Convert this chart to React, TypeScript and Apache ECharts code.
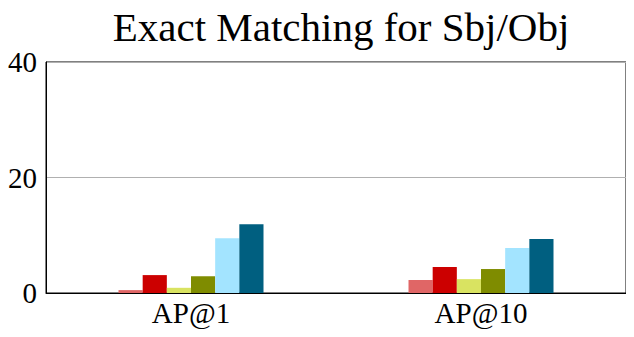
import React, { useEffect, useRef } from "react";
import * as echarts from "echarts";

const categories = ["AP@1", "AP@10"];
const seriesNames = ["S1", "S2", "S3", "S4", "S5", "S6"];
const seriesValues = [
  [0.5, 2.25],
  [3.1, 4.5],
  [0.9, 2.4],
  [2.9, 4.15],
  [9.5, 7.8],
  [11.9, 9.35],
];
const colors = ["#e06666", "#cc0000", "#d9e361", "#7f8c00", "#a3e4ff", "#005f80"];
const yTicks = { min: 0, max: 40, interval: 20 };

export default function App() {
  const ref = useRef<HTMLDivElement>(null);
  useEffect(() => {
    const chart = echarts.init(ref.current!, null, { renderer: "svg" });
    const font = "Liberation Serif";
    chart.setOption({
      animation: false,
      textStyle: { fontFamily: font },
      title: {
        text: "Exact Matching for Sbj/Obj",
        left: 336,
        textAlign: "center",
        top: 1,
        textStyle: { fontFamily: font, fontSize: 41, fontWeight: "normal", color: "#000" },
      },
      grid: {
        left: 46,
        right: 8,
        top: 62,
        bottom: 44,
        show: true,
        borderColor: "#000",
        borderWidth: 1,
        backgroundColor: "transparent",
      },
      xAxis: {
        type: "category",
        data: categories,
        axisLine: { lineStyle: { color: "#000", width: 1 } },
        axisTick: { alignWithLabel: true, length: 4, lineStyle: { color: "#000" } },
        axisLabel: { fontFamily: font, fontSize: 29, color: "#000", margin: 5 },
      },
      yAxis: {
        type: "value",
        min: yTicks.min,
        max: yTicks.max,
        interval: yTicks.interval,
        axisLine: { show: true, lineStyle: { color: "#000" } },
        axisTick: { show: false },
        axisLabel: { fontFamily: font, fontSize: 29, color: "#000", margin: 9 },
        splitLine: { lineStyle: { color: "#b0b0b0", width: 1 } },
      },
      series: seriesNames.map((name, i) => ({
        name,
        type: "bar",
        data: seriesValues[i],
        barGap: "0%",
        barCategoryGap: "50%",
        itemStyle: { color: colors[i] },
      })),
    });
    return () => chart.dispose();
  }, []);
  return <div ref={ref} style={{ width: 634, height: 337, margin: -8 }} />;
}
